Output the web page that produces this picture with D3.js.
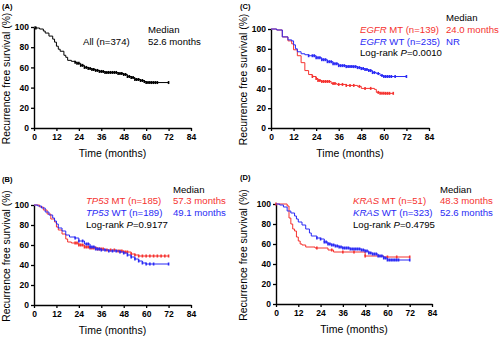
<!DOCTYPE html>
<html>
<head>
<meta charset="utf-8">
<script src="https://cdn.jsdelivr.net/npm/d3@7"></script>
<style>
  body { margin: 0; background: #fff; }
  text { font-family: "Liberation Sans", Arial, sans-serif; }
</style>
</head>
<body>
<div id="chart"></div>
<script>
// survival curves: [months, percent]
const allCurve = [[0,100],[1,99],[3,98],[5,96],[6,94],[8,91],[10,88],[11,85],[12,81],[13,78],[14,76],[16,72],[17,70],[18,67],[20,66],[22,65],[23,64],[25,62],[27,60],[29,59],[31,58],[33,57],[35,56],[38,55],[45,54],[48,53],[50,51],[52,50],[54,48],[57,47],[59,46],[60,45],[72,45]];
const allCens = [1,22,23,24,25,26,27,28,29,30,31,32,33,34,35,36,37,38,39,40,41,42,43,44,45,46,47,48,49,50,51,52,53,54,55,56,57,58,59,60,61,62,63,64,65,66,72];

const egfrMT = [[0,100],[3,99],[6,92],[9,88],[11,85],[12,79],[14,73],[16,66],[18,58],[20,54],[22,52],[24,50],[25,48],[27,47],[32,45],[35,44],[40,43],[46,42],[48,40],[55,39],[56,36],[58,35],[65,35]];
const egfrMTCens = [22,24,25,26,27,28,29,30,31,33,34,36,38,40,42,44,47,50,53,57,58,59,60,61,62,63,65];
const egfrWT = [[0,100],[3,99],[6,92],[9,89],[11,88],[12,84],[13,80],[14,77],[16,75],[18,74],[20,73],[24,71],[27,69],[30,67],[33,65],[36,63],[40,62],[46,61],[48,60],[50,59],[52,58],[54,56],[56,55],[58,53],[60,52],[72,52]];
const egfrWTCens = [20,22,23,24,25,26,27,28,29,30,31,32,33,34,35,36,37,38,39,40,41,42,43,44,45,46,47,48,49,50,51,52,53,54,55,57,59,60,61,62,63,64,66,72];

const tp53MT = [[0,100],[3,98],[5,95],[7,91],[9,86],[11,83],[12,78],[13,75],[15,71],[17,66],[18,63],[20,62],[24,60],[27,58],[30,57],[34,56],[38,55],[44,54],[48,53],[52,51],[54,50],[56,49],[72,49]];
const tp53MTCens = [22,23,24,25,26,27,28,29,30,31,32,33,34,35,36,37,39,41,43,45,46,47,48,49,50,52,54,56,58,60,62,64,66,68,70,72];
const tp53WT = [[0,100],[2,99],[4,97],[6,93],[8,90],[10,87],[11,84],[12,81],[13,77],[15,74],[17,70],[19,68],[22,67],[24,64],[27,61],[30,58],[33,56],[36,55],[40,54],[46,53],[48,52],[50,50],[52,48],[54,46],[56,44],[58,42],[60,41],[72,41]];
const tp53WTCens = [22,24,26,28,29,30,31,32,33,34,35,36,38,40,42,44,46,48,50,52,54,56,58,60,62,64,72];

const krasMT = [[0,100],[6,98],[7,86],[8,80],[9,75],[10,73],[11,67],[12,63],[13,60],[14,59],[16,57],[21,56],[28,54],[31,52],[48,48],[58,47],[72,47]];
const krasMTCens = [0,22,30,36,42,48,60,65,72];
const krasWT = [[0,100],[2,99],[4,97],[6,93],[8,91],[10,88],[11,85],[12,82],[14,79],[16,75],[18,71],[19,68],[22,66],[24,65],[26,62],[28,60],[30,59],[32,58],[34,57],[36,56],[40,55],[46,54],[48,53],[50,51],[52,50],[55,48],[58,46],[60,44],[72,44]];
const krasWTCens = [22,24,26,27,28,29,30,31,32,33,34,35,36,37,38,39,40,41,42,43,44,45,46,47,48,49,50,51,52,53,54,55,56,57,58,59,60,61,62,63,64,65,66,72];

const xTicks = [0, 12, 24, 36, 48, 60, 72, 84];
const yTicks = [0, 20, 40, 60, 80, 100];

const RED = "#f5322f", BLUE = "#2a2af5", BLACK = "#000";

const svg = d3.select("#chart").append("svg")
    .attr("width", 500).attr("height", 337);

function survAt(curve, t) {
    let i = d3.bisector(d => d[0]).right(curve, t) - 1;
    return curve[Math.max(i, 0)][1];
}

function panel(opt) {
    const x = d3.scaleLinear().domain([0, 84]).range([opt.x0, opt.x1]);
    const y = d3.scaleLinear().domain([0, 100]).range([opt.yb, opt.yt]);
    const g = svg.append("g");

    // axes
    const xa = g.append("g").attr("transform", "translate(0," + opt.yb + ")")
        .call(d3.axisBottom(x).tickValues(xTicks).tickSize(3).tickSizeOuter(0).tickPadding(3));
    const ya = g.append("g").attr("transform", "translate(" + opt.x0 + ",0)")
        .call(d3.axisLeft(y).tickValues(yTicks).tickSize(3).tickSizeOuter(0).tickPadding(2));
    [xa, ya].forEach(a => {
        a.select(".domain").attr("stroke-width", 1.4);
        a.selectAll(".tick line").attr("stroke-width", 1.3);
        a.selectAll("text").attr("font-size", 8.5).attr("font-weight", "bold")
            .attr("font-family", "'Liberation Sans Narrow', 'Arial Narrow', 'Liberation Sans', sans-serif");
    });

    // curves
    const line = d3.line().x(d => x(d[0])).y(d => y(d[1])).curve(d3.curveStepAfter);
    opt.series.forEach(s => {
        g.append("path").datum(s.curve).attr("d", line)
            .attr("fill", "none").attr("stroke", s.color).attr("stroke-width", 1);
        g.selectAll(null).data(s.cens).enter().append("line")
            .attr("x1", d => x(d)).attr("x2", d => x(d))
            .attr("y1", d => y(survAt(s.curve, d)) - 1.5)
            .attr("y2", d => y(survAt(s.curve, d)) + 1.5)
            .attr("stroke", s.color).attr("stroke-width", 1.6);
    });

    // titles
    g.append("text").attr("x", opt.lx).attr("y", opt.ly).text(opt.label)
        .attr("font-size", 7.5).attr("font-weight", "bold");
    g.append("text")
        .attr("transform", "translate(" + opt.tx + "," + ((opt.yt + opt.yb) / 2 + 1) + ") rotate(-90)")
        .attr("text-anchor", "middle").attr("font-size", 10.4)
        .text("Recurrence free survival (%)");
    g.append("text").attr("x", (opt.x0 + opt.x1) / 2).attr("y", opt.yb + 29)
        .attr("text-anchor", "middle").attr("font-size", 10.5).text("Time (months)");

    // legend text
    opt.texts.forEach(t => {
        const tx = g.append("text").attr("x", t[0]).attr("y", t[1])
            .attr("font-size", 9.6).attr("fill", t[2]);
        t[3].forEach(p => tx.append("tspan").text(p[0])
            .attr("font-style", p[1] ? "italic" : "normal"));
    });
}

panel({x0: 34, x1: 191, yt: 27, yb: 128, lx: 2, ly: 9, label: "(A)", tx: 10,
    series: [{curve: allCurve, cens: allCens, color: BLACK}],
    texts: [[148, 33, BLACK, [["Median"]]], [148, 45, BLACK, [["52.6 months"]]],
            [83, 45, BLACK, [["All (n=374)"]]]]});

panel({x0: 271, x1: 429, yt: 29, yb: 128, lx: 240, ly: 9, label: "(C)", tx: 247,
    series: [{curve: egfrMT, cens: egfrMTCens, color: RED}, {curve: egfrWT, cens: egfrWTCens, color: BLUE}],
    texts: [[446, 21, BLACK, [["Median"]]],
            [360, 33, RED, [["EGFR", 1], [" MT (n=139)"]]], [446, 33, RED, [["24.0 months"]]],
            [360, 45, BLUE, [["EGFR", 1], [" WT (n=235)"]]], [446, 45, BLUE, [["NR"]]],
            [360, 56, BLACK, [["Log-rank "], ["P", 1], ["=0.0010"]]]]});

panel({x0: 34, x1: 191, yt: 205, yb: 305, lx: 2, ly: 182, label: "(B)", tx: 10,
    series: [{curve: tp53MT, cens: tp53MTCens, color: RED}, {curve: tp53WT, cens: tp53WTCens, color: BLUE}],
    texts: [[173, 193, BLACK, [["Median"]]],
            [86, 204, RED, [["TP53", 1], [" MT (n=185)"]]], [173, 204, RED, [["57.3 months"]]],
            [86, 216, BLUE, [["TP53", 1], [" WT (n=189)"]]], [173, 216, BLUE, [["49.1 months"]]],
            [86, 228, BLACK, [["Log-rank "], ["P", 1], ["=0.9177"]]]]});

panel({x0: 276, x1: 432, yt: 204, yb: 304, lx: 240, ly: 180, label: "(D)", tx: 247,
    series: [{curve: krasMT, cens: krasMTCens, color: RED}, {curve: krasWT, cens: krasWTCens, color: BLUE}],
    texts: [[440, 193, BLACK, [["Median"]]],
            [353, 204, RED, [["KRAS", 1], [" MT (n=51)"]]], [440, 204, RED, [["48.3 months"]]],
            [353, 216, BLUE, [["KRAS", 1], [" WT (n=323)"]]], [440, 216, BLUE, [["52.6 months"]]],
            [353, 228, BLACK, [["Log-rank "], ["P", 1], ["=0.4795"]]]]});
</script>
</body>
</html>
